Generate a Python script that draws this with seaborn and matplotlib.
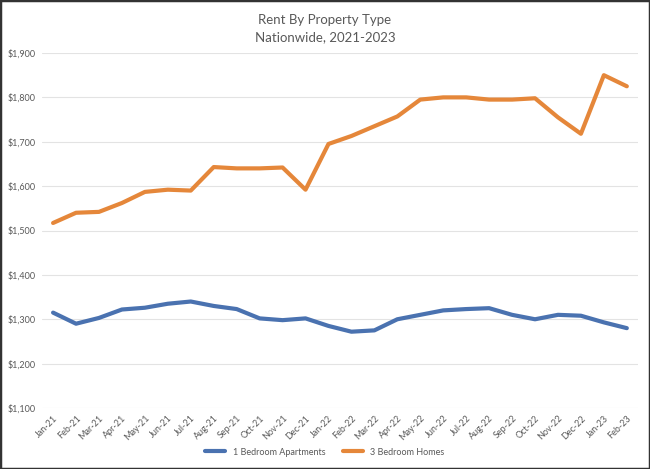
import matplotlib
matplotlib.use("Agg")
import matplotlib.pyplot as plt
import matplotlib.patches as mpatches
import pandas as pd
import seaborn as sns

# ── data ──────────────────────────────────────────────────────────────────
months = ["Jan-21", "Feb-21", "Mar-21", "Apr-21", "May-21", "Jun-21", "Jul-21",
          "Aug-21", "Sep-21", "Oct-21", "Nov-21", "Dec-21", "Jan-22", "Feb-22",
          "Mar-22", "Apr-22", "May-22", "Jun-22", "Jul-22", "Aug-22", "Sep-22",
          "Oct-22", "Nov-22", "Dec-22", "Jan-23", "Feb-23"]
one_bed_apts = [1315, 1290, 1303, 1322, 1326, 1335, 1340, 1330, 1323, 1302,
                1298, 1302, 1285, 1272, 1275, 1300, 1310, 1320, 1323, 1325,
                1310, 1300, 1310, 1308, 1293, 1280]
three_bed_homes = [1517, 1540, 1542, 1562, 1587, 1592, 1590, 1643, 1640, 1640,
                   1642, 1592, 1695, 1713, 1735, 1757, 1795, 1800, 1800, 1795,
                   1795, 1798, 1755, 1718, 1850, 1825]
series_names = ["1 Bedroom Apartments", "3 Bedroom Homes"]
y_ticks = [1100, 1200, 1300, 1400, 1500, 1600, 1700, 1800, 1900]

df = pd.DataFrame({
    "idx": list(range(len(months))) * 2,
    "rent": one_bed_apts + three_bed_homes,
    "series": [series_names[0]] * len(months) + [series_names[1]] * len(months),
})

sns.set_theme(style="white")
plt.rcParams["font.family"] = ["Lato", "DejaVu Sans"]

BLUE = "#4A72B0"
ORANGE = "#E5873A"
TEXT = "#595959"

fig = plt.figure(figsize=(6.5, 4.69), dpi=100)
ax = fig.add_axes([0.064, 0.130, 0.918, 0.757])

sns.lineplot(data=df, x="idx", y="rent", hue="series",
             palette=[BLUE, ORANGE], linewidth=3, ax=ax, legend=False,
             solid_joinstyle="round", solid_capstyle="round")

ax.set_xlim(-0.5, len(months) - 0.5)
ax.set_ylim(1100, 1900)
ax.set_yticks(y_ticks)
ax.set_yticklabels([f"${v:,}" for v in y_ticks], fontsize=6.5, color=TEXT)
ax.set_xticks(range(len(months)))
ax.set_xticklabels(months, rotation=45, ha="right", rotation_mode="anchor",
                   fontsize=6.5, color=TEXT)
ax.tick_params(axis="both", length=0, pad=4)
ax.set_xlabel("")
ax.set_ylabel("")
ax.grid(axis="y", color="#E3E3E3", linewidth=0.8)
ax.set_axisbelow(True)
for s in ax.spines.values():
    s.set_visible(False)

fig.text(0.5, 0.957, "Rent By Property Type", ha="center", va="center",
         fontsize=9.5, color=TEXT)
fig.text(0.5, 0.921, "Nationwide, 2021-2023", ha="center", va="center",
         fontsize=9.5, color=TEXT)

handles = [plt.Line2D([], [], color=BLUE, linewidth=3),
           plt.Line2D([], [], color=ORANGE, linewidth=3)]
fig.legend(handles, series_names, loc="center", bbox_to_anchor=(0.5, 0.036),
           ncol=2, frameon=False, fontsize=6.5, handlelength=2.2,
           columnspacing=2.0, labelcolor=TEXT)

# dark screenshot frame
fig.patches.append(mpatches.Rectangle((0, 0), 1, 1, transform=fig.transFigure,
                                      fill=False, edgecolor="#333333",
                                      linewidth=2.5))

fig.savefig("out.png", dpi=100)
